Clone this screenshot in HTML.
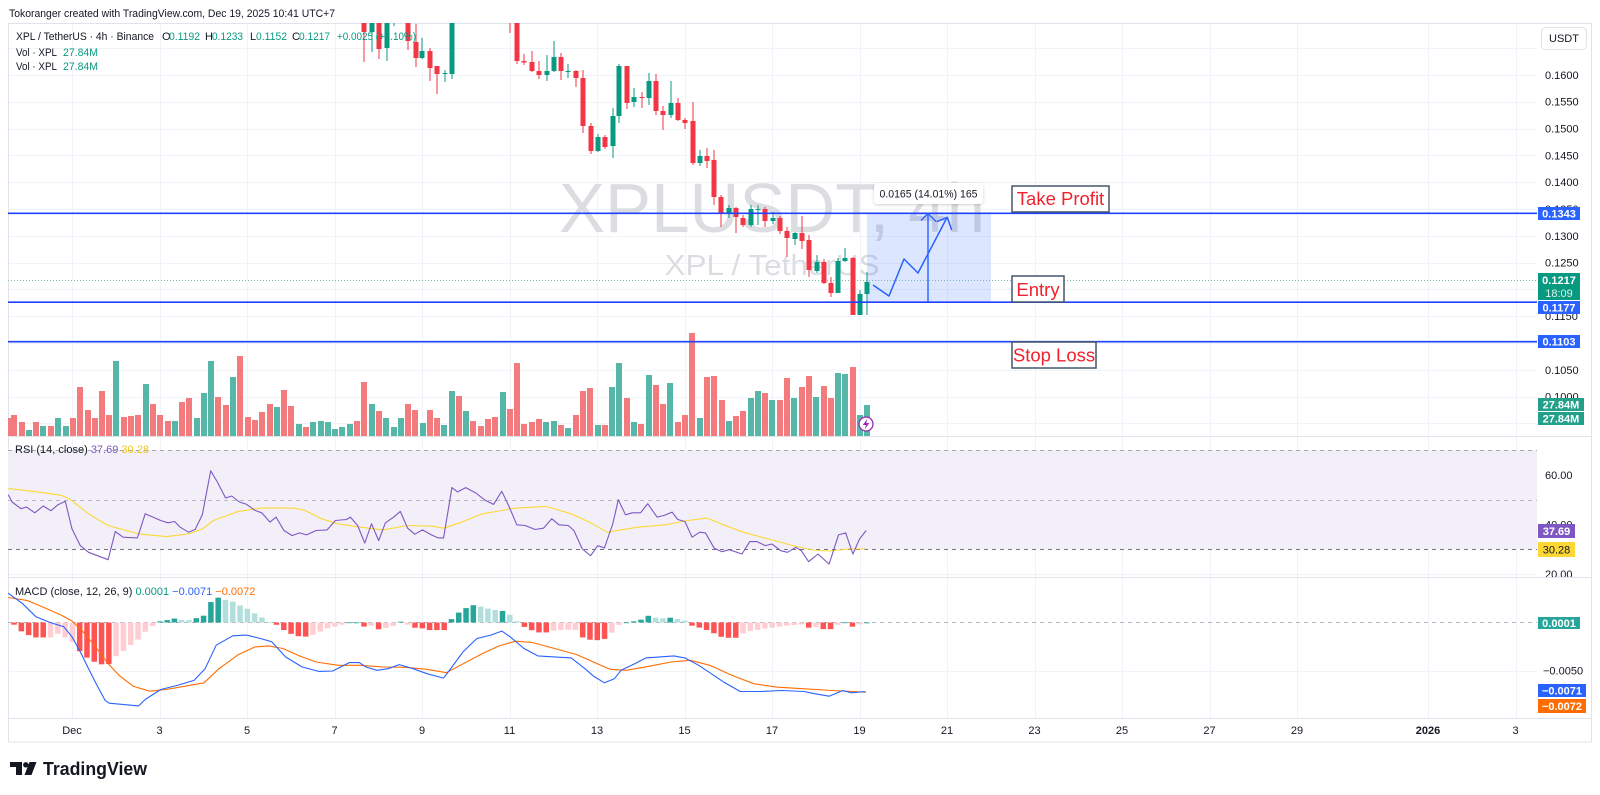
<!DOCTYPE html>
<html><head><meta charset="utf-8">
<style>
html,body{margin:0;padding:0;background:#fff;}
svg{display:block;font-family:"Liberation Sans",sans-serif;}
</style></head><body>
<svg id="c" width="1600" height="795" viewBox="0 0 1600 795" xmlns="http://www.w3.org/2000/svg">
<defs>
 <clipPath id="cpPrice"><rect x="8" y="23" width="1529" height="413"/></clipPath>
 <clipPath id="cpRsi"><rect x="8" y="436" width="1529" height="141"/></clipPath>
 <clipPath id="cpMacd"><rect x="8" y="577" width="1529" height="141"/></clipPath>
 <clipPath id="cpAxP"><rect x="1537" y="23" width="55" height="413"/></clipPath>
 <clipPath id="cpAxR"><rect x="1537" y="437" width="55" height="140"/></clipPath>
 <filter id="sh" x="-20%" y="-40%" width="140%" height="180%"><feDropShadow dx="0" dy="1" stdDeviation="1.5" flood-color="#000" flood-opacity="0.18"/></filter>
</defs>
<rect width="1600" height="795" fill="#fff"/>

<!-- header -->
<text x="9" y="17" font-size="11" fill="#131722" textLength="326" lengthAdjust="spacingAndGlyphs">Tokoranger created with TradingView.com, Dec 19, 2025 10:41 UTC+7</text>

<!-- frame -->
<rect x="8.5" y="23.5" width="1583" height="718.5" fill="#fff" stroke="#e0e3eb"/>

<g id="grid"></g>

<!-- price pane -->
<g clip-path="url(#cpPrice)">
 <text x="772" y="232" font-size="70" fill="#dcdde1" text-anchor="middle" textLength="426" lengthAdjust="spacingAndGlyphs">XPLUSDT, 4h</text>
 <text x="772" y="275" font-size="29" fill="#dcdde1" text-anchor="middle" textLength="215" lengthAdjust="spacingAndGlyphs">XPL / TetherUS</text>
 <g id="vol"></g>
 <rect x="867" y="213" width="124" height="89" fill="rgba(41,98,255,0.16)"/>
 <line x1="8" x2="1537" y1="280.5" y2="280.5" stroke="#7fb3aa" stroke-dasharray="1,2"/>
 <g id="candles"></g>
 <line x1="8" x2="1537" y1="213.3" y2="213.3" stroke="#2040ff" stroke-width="1.7"/>
 <line x1="8" x2="1537" y1="302.2" y2="302.2" stroke="#2040ff" stroke-width="1.7"/>
 <line x1="8" x2="1537" y1="341.7" y2="341.7" stroke="#2040ff" stroke-width="1.7"/>
 <!-- measurement arrow -->
 <line x1="928" x2="928" y1="302" y2="214" stroke="#2962ff" stroke-width="1.4"/>
 <polyline points="921,220.5 928,213.5 936,221.5" fill="none" stroke="#2962ff" stroke-width="1.4"/>
 <polyline points="873,285 889,296 904,259 918,273 947,217.5" fill="none" stroke="#2962ff" stroke-width="1.5" stroke-linejoin="round"/>
 <polyline points="936.7,221.7 947.3,217.3 951.7,230" fill="none" stroke="#2962ff" stroke-width="1.5" stroke-linejoin="round"/>
 <!-- tooltip -->
 <rect x="874" y="183" width="109" height="21" rx="4" fill="#fff" filter="url(#sh)"/>
 <text x="928.5" y="197.5" font-size="11" fill="#131722" text-anchor="middle" textLength="98" lengthAdjust="spacingAndGlyphs">0.0165 (14.01%) 165</text>
 <!-- lightning -->
 <circle cx="866" cy="424" r="7" fill="#fff" stroke="#9c27b0" stroke-width="1.3"/>
 <path d="M867.5,418.5 L862.8,425 L866,425 L864.6,429.5 L869.3,423 L866.2,423 Z" fill="#9c27b0"/>
</g>

<!-- labels -->
<rect x="1012" y="186" width="97" height="26" fill="#fff" stroke="#44576b" stroke-width="1.5"/>
<text x="1060.5" y="205" font-size="18.5" fill="#f0222e" text-anchor="middle">Take Profit</text>
<rect x="1012" y="276" width="52" height="26" fill="#fff" stroke="#44576b" stroke-width="1.5"/>
<text x="1038" y="296" font-size="18.5" fill="#f0222e" text-anchor="middle">Entry</text>
<rect x="1012" y="342" width="84" height="26" fill="#fff" stroke="#44576b" stroke-width="1.5"/>
<text x="1054" y="361.5" font-size="18.5" fill="#f0222e" text-anchor="middle">Stop Loss</text>

<!-- legend -->
<g font-size="11" fill="#131722">
 <text x="16" y="40" textLength="138" lengthAdjust="spacingAndGlyphs">XPL / TetherUS · 4h · Binance</text>
 <text x="162" y="40">O</text><text x="169" y="40" fill="#089981" textLength="31" lengthAdjust="spacingAndGlyphs">0.1192</text>
 <text x="205" y="40">H</text><text x="212" y="40" fill="#089981" textLength="31" lengthAdjust="spacingAndGlyphs">0.1233</text>
 <text x="250" y="40">L</text><text x="256" y="40" fill="#089981" textLength="31" lengthAdjust="spacingAndGlyphs">0.1152</text>
 <text x="292" y="40">C</text><text x="299" y="40" fill="#089981" textLength="31" lengthAdjust="spacingAndGlyphs">0.1217</text>
 <text x="337" y="40" fill="#089981" textLength="79" lengthAdjust="spacingAndGlyphs">+0.0025 (+2.10%)</text>
 <text x="16" y="56" textLength="41" lengthAdjust="spacingAndGlyphs">Vol · XPL</text><text x="63" y="56" fill="#089981" textLength="35" lengthAdjust="spacingAndGlyphs">27.84M</text>
 <text x="16" y="70" textLength="41" lengthAdjust="spacingAndGlyphs">Vol · XPL</text><text x="63" y="70" fill="#089981" textLength="35" lengthAdjust="spacingAndGlyphs">27.84M</text>
</g>

<!-- RSI pane -->
<rect x="8" y="450" width="1529" height="99" fill="#f2eff9"/>
<line x1="8" x2="1537" y1="450.5" y2="450.5" stroke="#a3a6af" stroke-dasharray="4,4"/>
<line x1="8" x2="1537" y1="500.5" y2="500.5" stroke="#b8bac2" stroke-dasharray="4,4"/>
<line x1="8" x2="1537" y1="549.5" y2="549.5" stroke="#6e7180" stroke-dasharray="4,4"/>
<g clip-path="url(#cpRsi)" id="rsi"></g>
<text x="15" y="453" font-size="11" fill="#131722">RSI (14, close) <tspan fill="#7e57c2">37.69</tspan> <tspan fill="#f2c618">30.28</tspan></text>

<!-- MACD pane -->
<line x1="8" x2="1537" y1="622.5" y2="622.5" stroke="#b2b5be" stroke-dasharray="4,4"/>
<g clip-path="url(#cpMacd)" id="macd"></g>
<text x="15" y="595" font-size="11" fill="#131722">MACD (close, 12, 26, 9) <tspan fill="#089981">0.0001</tspan> <tspan fill="#2962ff">−0.0071</tspan> <tspan fill="#ff6d00">−0.0072</tspan></text>

<!-- pane separators -->
<line x1="8" x2="1592" y1="436.5" y2="436.5" stroke="#e0e3eb"/>
<line x1="8" x2="1592" y1="577.5" y2="577.5" stroke="#e0e3eb"/>
<line x1="8" x2="1592" y1="718.5" y2="718.5" stroke="#e0e3eb"/>

<!-- price axis -->
<rect x="1541.5" y="27.5" width="45" height="22" rx="4" fill="#fff" stroke="#e0e3eb"/>
<text x="1564" y="42" font-size="11" fill="#131722" text-anchor="middle">USDT</text>
<g clip-path="url(#cpAxP)" font-size="11" fill="#131722">
 <text x="1545" y="79">0.1600</text>
 <text x="1545" y="105.7">0.1550</text>
 <text x="1545" y="132.5">0.1500</text>
 <text x="1545" y="159.4">0.1450</text>
 <text x="1545" y="186.2">0.1400</text>
 <text x="1545" y="213">0.1350</text>
 <text x="1545" y="239.8">0.1300</text>
 <text x="1545" y="266.6">0.1250</text>
 <text x="1545" y="293.4">0.1200</text>
 <text x="1545" y="320.2">0.1150</text>
 <text x="1545" y="347">0.1100</text>
 <text x="1545" y="373.8">0.1050</text>
 <text x="1545" y="400.6">0.1000</text>
</g>
<g font-size="11" font-weight="bold" fill="#fff" text-anchor="middle">
 <rect x="1538" y="207" width="42" height="13" fill="#2962ff"/><text x="1559" y="217.5">0.1343</text>
 <rect x="1538" y="273" width="42" height="27" fill="#089981"/><text x="1559" y="284">0.1217</text><text x="1559" y="297" font-weight="normal" fill="#e0f2ee">18:09</text>
 <rect x="1538" y="301" width="42" height="13" fill="#2962ff"/><text x="1559" y="311.5">0.1177</text>
 <rect x="1538" y="335" width="42" height="13" fill="#2962ff"/><text x="1559" y="345.5">0.1103</text>
 <rect x="1538" y="398" width="46" height="13" fill="#22a08a"/><text x="1561" y="408.5">27.84M</text>
 <rect x="1538" y="412" width="46" height="13" fill="#22a08a"/><text x="1561" y="422.5">27.84M</text>
</g>
<g clip-path="url(#cpAxR)" font-size="11" fill="#131722">
 <text x="1545" y="479">60.00</text>
 <text x="1545" y="528.5">40.00</text>
 <text x="1545" y="578">20.00</text>
</g>
<g font-size="11" font-weight="bold" text-anchor="middle">
 <rect x="1538" y="524" width="37" height="14" fill="#7e57c2"/><text x="1556.5" y="535" fill="#fff">37.69</text>
 <rect x="1538" y="542" width="37" height="15" fill="#fdd835"/><text x="1556.5" y="553.5" fill="#131722" font-weight="normal">30.28</text>
</g>
<text x="1543" y="674.7" font-size="11" fill="#131722">−0.0050</text>
<g font-size="11" font-weight="bold" fill="#fff" text-anchor="middle">
 <rect x="1538" y="617" width="42" height="12" fill="#26a69a"/><text x="1559" y="627">0.0001</text>
 <rect x="1538" y="684" width="48" height="13" fill="#2962ff"/><text x="1562" y="694.5">−0.0071</text>
 <rect x="1538" y="699" width="48" height="14" fill="#ff6d00"/><text x="1562" y="710">−0.0072</text>
</g>

<!-- time axis -->
<g font-size="11" fill="#131722" text-anchor="middle">
 <text x="72" y="734">Dec</text>
 <text x="159.5" y="734">3</text>
 <text x="247" y="734">5</text>
 <text x="334.5" y="734">7</text>
 <text x="422" y="734">9</text>
 <text x="509.5" y="734">11</text>
 <text x="597" y="734">13</text>
 <text x="684.5" y="734">15</text>
 <text x="772" y="734">17</text>
 <text x="859.5" y="734">19</text>
 <text x="947" y="734">21</text>
 <text x="1034.5" y="734">23</text>
 <text x="1122" y="734">25</text>
 <text x="1209.5" y="734">27</text>
 <text x="1297" y="734">29</text>
 <text x="1428" y="734" font-weight="bold">2026</text>
 <text x="1515.5" y="734">3</text>
</g>

<!-- logo -->
<g fill="#131722">
 <rect x="10" y="762" width="12" height="5"/>
 <rect x="16" y="762" width="6" height="13"/>
 <circle cx="25.8" cy="764.8" r="2.7"/>
 <polygon points="29.5,762 36.5,762 31.5,775 24.5,775"/>
 <text x="43" y="775" font-size="18.5" font-weight="bold" textLength="104" lengthAdjust="spacingAndGlyphs">TradingView</text>
</g>

<script>
(function(){
const NS="http://www.w3.org/2000/svg";
function mk(p,t,a){const e=document.createElementNS(NS,t);for(const k in a)e.setAttribute(k,a[k]);p.appendChild(e);return e;}
const $=id=>document.getElementById(id);
// grid
const g=$('grid');
const dates=[72,159.5,247,334.5,422,509.5,597,684.5,772,859.5,947,1034.5,1122,1209.5,1297,1428,1515.5];
dates.forEach(x=>{const xx=Math.round(x)+0.5;mk(g,'line',{x1:xx,x2:xx,y1:24,y2:718,stroke:'#f0f3fa'});});
for(let n=-1;n<=13;n++){const y=Math.round(75+n*26.8)+0.5;mk(g,'line',{x1:9,x2:1537,y1:y,y2:y,stroke:'#f0f3fa'});}
[475,524,574,671].forEach(y=>mk(g,'line',{x1:9,x2:1537,y1:y+0.5,y2:y+0.5,stroke:'#f0f3fa'}));

// volume
const V=[[9,418,'R'],[14,415,'R'],[22,422,'R'],[29,430,'G'],[36,422,'R'],[43,426,'G'],[51,426,'R'],[58,418,'G'],[66,426,'G'],[73,418,'R'],[80,387,'R'],[88,410,'R'],[95,418,'R'],[102,391,'R'],[109,415,'R'],[116,361,'G'],[124,417,'R'],[131,416,'R'],[138,415,'R'],[146,384,'G'],[153,404,'R'],[160,415,'R'],[168,421,'R'],[175,421,'G'],[182,402,'R'],[189,398,'R'],[197,418,'G'],[204,393,'G'],[211,361,'G'],[218,397,'R'],[226,405,'R'],[233,377,'G'],[240,356,'R'],[248,417,'R'],[255,420,'R'],[262,412,'R'],[270,404,'R'],[277,407,'G'],[284,390,'R'],[291,406,'R'],[299,424,'G'],[306,427,'R'],[313,422,'G'],[321,421,'G'],[328,422,'G'],[335,429,'G'],[342,427,'G'],[350,424,'G'],[357,421,'R'],[364,382,'R'],[372,404,'G'],[379,411,'R'],[386,418,'G'],[394,427,'G'],[401,418,'G'],[408,404,'R'],[415,410,'R'],[423,423,'G'],[430,410,'R'],[437,418,'R'],[444,425,'G'],[452,391,'G'],[459,396,'R'],[466,411,'G'],[473,421,'R'],[481,426,'R'],[488,419,'R'],[495,417,'R'],[503,392,'G'],[510,409,'R'],[517,363,'R'],[524,424,'R'],[532,422,'R'],[539,419,'R'],[546,422,'G'],[554,421,'G'],[561,425,'R'],[568,428,'G'],[576,415,'R'],[583,391,'R'],[590,388,'R'],[598,425,'G'],[605,425,'R'],[612,387,'G'],[619,363,'G'],[627,398,'R'],[634,422,'G'],[641,424,'R'],[649,375,'G'],[656,385,'R'],[663,404,'R'],[670,383,'G'],[678,422,'R'],[685,415,'R'],[692,333,'R'],[700,418,'G'],[707,377,'R'],[714,376,'R'],[722,400,'R'],[729,421,'G'],[736,416,'R'],[743,411,'R'],[751,398,'G'],[758,391,'G'],[765,393,'R'],[772,400,'G'],[780,400,'R'],[787,378,'R'],[794,398,'G'],[802,387,'R'],[809,376,'R'],[816,397,'G'],[824,386,'R'],[831,398,'R'],[838,373,'G'],[845,374,'G'],[853,367,'R'],[860,415,'G'],[867,405,'G']];
const vg=$('vol');
V.forEach(([x,t,c])=>mk(vg,'rect',{x:x-3,y:t,width:6,height:437-t,fill:c=='G'?'#56b6a7':'#f47b7d'}));

// candles
const C=[[364,15,32,15,62,'R'],[372,15,32,15,52,'G'],[379,15,49,15,59,'R'],[387,15,48,15,61,'G'],[394,15,22,15,26,'G'],[408,15,41,15,50,'R'],[416,42,58,24,67,'R'],[422,51,58,38,59,'G'],[430,51,68,48,81,'R'],[437,66,74,66,94,'R'],[445,73,74,70,82,'G'],[452,15,74,15,79,'G'],[510,15,18,15,33,'R'],[517,15,61,15,64,'R'],[524,61,62.5,54,65,'R'],[532,62,71,51,72,'R'],[539,71,75,61,79,'R'],[547,71,75,55,81,'G'],[554,57,71,41,72,'G'],[561,57,71,53,80,'R'],[568,71,72,64,78,'G'],[576,71,78,70,87,'R'],[583,78,126,70,133,'R'],[591,126,151,123,154,'R'],[598,137,151,134,152,'G'],[605,137,147,135,149,'R'],[613,116,146,108,158,'G'],[619,66,116,64,123,'G'],[627,66,103,66,109,'R'],[634,97,102,88,107,'G'],[642,97,98,92,108,'R'],[649,81,98,73,105,'G'],[656,81,111,74,115,'R'],[663,111,115,106,130,'R'],[671,103,115,81,118,'G'],[678,103,120,98,121,'R'],[685,120,123,118,129,'R'],[693,121,163,102,165,'R'],[700,156,163,150,166,'G'],[707,156,161,148,168,'R'],[714,160,197,150,205,'R'],[721,197,213,195,227,'R'],[729,208,213,205,218,'G'],[736,208,217,207,233,'R'],[743,218,225,215,227,'R'],[751,209,225,205,227,'G'],[758,209,210,205,225,'G'],[765,209,221,207,227,'R'],[773,218,221,212,224,'G'],[780,218,231,216,234,'R'],[787,231,238,227,257,'R'],[795,233,239,232,245,'G'],[802,233,241,216,249,'R'],[809,240,270,235,277,'R'],[817,262,271,255,273,'G'],[824,262,283,259,284,'R'],[831,283,293,277,297,'R'],[838,261,293,258,293,'G'],[845,258,261,248,262,'G'],[853,258,315,257,315,'R'],[860,294,315,290,315,'G'],[867,282,294,272,315,'G']];
const cg=$('candles');
C.forEach(([x,bt,bb,wt,wb,c])=>{const col=c=='G'?'#089981':'#f23645';
 mk(cg,'rect',{x:x-0.5,y:wt,width:1,height:wb-wt,fill:col});
 mk(cg,'rect',{x:x-2.5,y:bt,width:5,height:Math.max(1,bb-bt),fill:col});});

const fx=X=>72+(X-130)/1.803;
const fyR=Y=>450+(Y-45)/2.98;
const fyM=Y=>568+Y/2.98;
function poly(p,pts,fy,col,w){mk(p,'polyline',{points:pts.map(([X,Y])=>fx(X).toFixed(1)+','+fy(Y).toFixed(1)).join(' '),fill:'none',stroke:col,'stroke-width':w||1.1,'stroke-linejoin':'round'});}

// RSI
const R=[[15,178],[22,200],[38,220],[48,215],[63,232],[78,212],[92,226],[105,208],[118,198],[130,280],[145,330],[160,350],[195,372],[208,288],[222,305],[248,307],[262,235],[290,255],[303,262],[315,258],[325,275],[340,290],[352,282],[365,238],[380,107],[392,140],[407,188],[418,182],[432,200],[445,207],[460,225],[472,232],[487,260],[498,245],[512,285],[527,300],[540,292],[553,298],[570,285],[590,283],[605,255],[625,252],[632,245],[645,270],[658,322],[670,265],[683,315],[695,262],[710,245],[722,228],[735,278],[748,296],[762,283],[778,298],[790,307],[800,307],[815,157],[825,170],[840,157],[858,173],[875,195],[890,207],[905,168],[918,213],[932,268],[947,270],[965,282],[980,278],[995,250],[1008,268],[1025,270],[1035,285],[1050,340],[1065,360],[1078,330],[1090,337],[1105,265],[1115,193],[1128,238],[1140,232],[1155,232],[1168,205],[1185,245],[1198,240],[1212,230],[1222,252],[1235,258],[1248,305],[1262,290],[1272,292],[1288,338],[1302,348],[1315,342],[1338,355],[1352,318],[1365,318],[1380,330],[1392,325],[1408,345],[1420,350],[1435,335],[1445,345],[1458,378],[1475,355],[1495,385],[1512,298],[1525,292],[1538,355],[1550,310],[1562,285]];
const M=[[15,160],[60,168],[110,180],[125,190],[160,235],[195,270],[250,295],[300,303],[340,295],[365,280],[385,255],[430,228],[470,218],[530,218],[550,225],[580,250],[610,265],[650,275],[690,283],[735,270],[780,272],[800,278],[830,262],[870,235],[930,218],[985,213],[1030,235],[1065,262],[1095,290],[1150,275],[1200,268],[1240,255],[1275,248],[1300,265],[1340,290],[1385,310],[1430,330],[1465,343],[1495,346],[1530,340],[1562,340]];
const rg=$('rsi');
poly(rg,M,fyR,'#fdd835',1.1);
poly(rg,R,fyR,'#7e57c2',1.1);

// MACD histogram
const H=[[18,150,'l'],[30,180,'r'],[40,190,'r'],[52,200,'r'],[65,207,'r'],[78,207,'r'],[92,207,'p'],[103,195,'p'],[115,205,'p'],[128,215,'p'],[142,245,'r'],[155,265,'r'],[168,278,'r'],[182,287,'r'],[196,287,'r'],[210,262,'p'],[222,248,'p'],[235,230,'p'],[248,215,'p'],[260,193,'p'],[270,180,'p'],[285,160,'g'],[300,156,'g'],[313,150,'g'],[327,155,'l'],[340,156,'l'],[353,150,'g'],[367,143,'g'],[380,102,'g'],[393,88,'g'],[405,95,'l'],[418,98,'l'],[430,110,'l'],[443,118,'l'],[457,133,'l'],[470,145,'l'],[485,160,'l'],[500,170,'r'],[512,185,'r'],[523,195,'r'],[537,203,'r'],[550,205,'r'],[563,200,'p'],[577,190,'p'],[590,180,'p'],[603,175,'p'],[615,170,'p'],[630,162,'g'],[643,162,'g'],[657,175,'r'],[670,172,'p'],[683,183,'r'],[697,178,'p'],[710,172,'p'],[722,160,'g'],[737,170,'p'],[748,178,'r'],[762,180,'r'],[775,185,'r'],[790,185,'r'],[803,185,'r'],[815,150,'g'],[828,132,'g'],[842,118,'g'],[855,110,'g'],[867,115,'l'],[882,122,'l'],[893,125,'l'],[905,127,'g'],[920,140,'l'],[932,158,'l'],[945,175,'r'],[958,185,'r'],[972,192,'r'],[985,192,'r'],[997,187,'p'],[1010,185,'p'],[1022,185,'p'],[1035,180,'p'],[1048,205,'r'],[1060,213,'r'],[1073,215,'r'],[1087,215,'r'],[1100,200,'p'],[1113,172,'p'],[1125,163,'g'],[1140,160,'g'],[1155,155,'g'],[1168,142,'g'],[1182,148,'l'],[1195,150,'l'],[1208,148,'g'],[1222,152,'l'],[1235,157,'l'],[1248,172,'r'],[1262,178,'r'],[1275,185,'r'],[1288,195,'r'],[1300,205,'r'],[1313,208,'r'],[1327,208,'r'],[1340,195,'p'],[1353,188,'p'],[1365,185,'p'],[1380,180,'p'],[1392,178,'p'],[1405,175,'p'],[1418,172,'p'],[1433,170,'p'],[1445,168,'p'],[1457,178,'r'],[1470,175,'p'],[1483,182,'r'],[1497,183,'r'],[1510,170,'p'],[1522,160,'g'],[1537,175,'r'],[1550,168,'p'],[1562,163,'g']];
const cols={g:'#26a69a',l:'#b2dfdb',r:'#ff5252',p:'#ffcdd2'};
const mg=$('macd');
const pts=H.map(([X,Y,c])=>[fx(X),Y,c]);
const z=622.5;
for(let k=0;k<=118;k++){
 const x=867-k*7.29; if(x<8)break;
 let i=pts.findIndex(p=>p[0]>=x),Y,c;
 if(i===0){Y=pts[0][1];c=pts[0][2];}
 else if(i<0){Y=pts[pts.length-1][1];c=pts[pts.length-1][2];}
 else{const a=pts[i-1],b=pts[i];const t=(x-a[0])/(b[0]-a[0]);Y=a[1]+(b[1]-a[1])*t;c=(t<0.5?a:b)[2];}
 const y=fyM(Y);
 mk(mg,'rect',{x:(x-2.75).toFixed(2),y:Math.min(y,z).toFixed(2),width:5.5,height:Math.max(0.8,Math.abs(y-z)).toFixed(2),fill:cols[c]});
}
const B=[[15,75],[40,105],[65,145],[90,162],[115,175],[130,205],[145,250],[160,300],[175,350],[190,395],[197,403],[250,411],[262,392],[290,362],[320,350],[350,335],[370,300],[390,230],[420,202],[445,200],[470,210],[490,220],[515,265],[545,295],[575,308],[600,307],[630,282],[648,282],[660,295],[680,305],[700,300],[720,288],[745,300],[770,315],[800,328],[815,295],[835,250],[860,210],[885,200],[905,188],[920,205],[945,240],[970,262],[1000,265],[1030,268],[1055,300],[1070,322],[1090,342],[1108,330],[1120,305],[1145,285],[1165,268],[1190,265],[1215,262],[1235,268],[1260,290],[1280,312],[1305,340],[1335,368],[1370,368],[1410,365],[1450,368],[1470,375],[1495,382],[1520,365],[1535,372],[1560,368]];
const O=[[15,88],[50,97],[80,118],[110,140],[130,158],[150,190],[170,230],[195,285],[215,320],[240,352],[270,367],[300,362],[335,352],[368,342],[395,300],[430,258],[460,235],[485,232],[510,240],[540,262],[570,280],[610,290],[650,290],[690,295],[730,296],[770,302],[805,312],[830,290],[870,255],[900,232],[930,218],[960,222],[1000,240],[1040,258],[1070,280],[1100,302],[1130,305],[1170,293],[1210,280],[1245,275],[1280,290],[1320,320],[1360,345],[1400,355],[1450,360],[1500,365],[1562,370]];
poly(mg,O,fyM,'#ff6d00',1.1);
poly(mg,B,fyM,'#2962ff',1.1);
})();
</script>
</svg>
</body></html>
